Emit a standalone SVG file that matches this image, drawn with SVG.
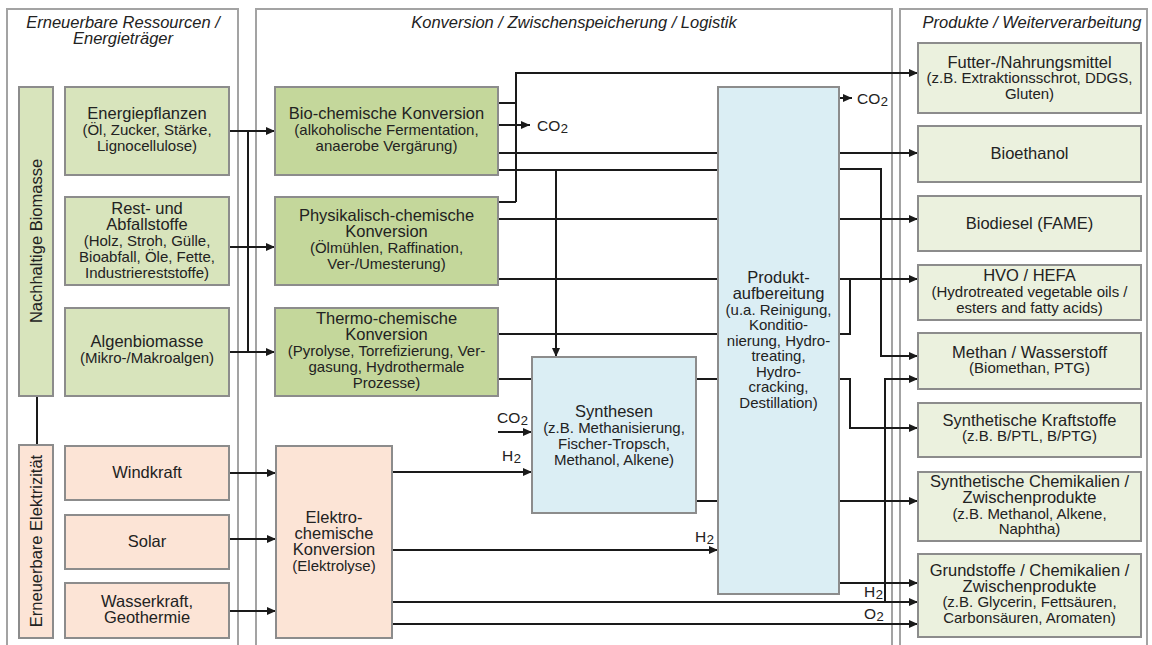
<svg xmlns="http://www.w3.org/2000/svg" width="1152" height="645" viewBox="0 0 1152 645">
<style>
.panel{fill:none;stroke:#a3a3a3;stroke-width:2}
.bx{stroke:#8c8c8c;stroke-width:2}
.src{fill:#d8e4bc}
.conv{fill:#c4d79b}
.prod{fill:#ebf1de}
.el{fill:#fce4d6}
.blue{fill:#dbeef4}
text{font-family:'Liberation Sans',Arial,sans-serif;fill:#222222}
.t{font-size:16.5px;text-anchor:middle}
.s{font-size:15px}
.ti{font-size:16.5px;font-style:italic;text-anchor:middle}
.lb{font-size:15.5px}
.sub{font-size:21px}
.c{fill:none;stroke:#1a1a1a;stroke-width:2}
.a{marker-end:url(#arr)}
</style>
<defs>
<marker id="arr" markerWidth="10" markerHeight="10" refX="9" refY="5" orient="auto" markerUnits="userSpaceOnUse">
<path d="M0,1 L9,5 L0,9 z" fill="#1a1a1a"/>
</marker>
</defs>
<rect width="1152" height="645" fill="#ffffff"/>
<g id="panels">
<rect class="panel" x="7" y="9" width="231" height="660"/>
<rect class="panel" x="256" y="9" width="636" height="660"/>
<rect class="panel" x="900" y="9" width="247" height="660"/>
<text class="ti" x="123" y="28">Erneuerbare Ressourcen /</text>
<text class="ti" x="123" y="44">Energieträger</text>
<text class="ti" x="574" y="28">Konversion / Zwischenspeicherung / Logistik</text>
<text class="ti" x="1032" y="28">Produkte / Weiterverarbeitung</text>
</g>
<g id="connectors">
<path class="c" d="M37,396 V445"/>
<path class="c a" d="M229,131 H275"/>
<path class="c a" d="M229,247 H275"/>
<path class="c a" d="M229,352 H275"/>
<path class="c" d="M248,131 V352"/>
<path class="c a" d="M229,473 H276"/>
<path class="c a" d="M229,539 H276"/>
<path class="c a" d="M229,611 H276"/>
<path class="c" d="M498,103 H516 M498,202 H516"/>
<path class="c a" d="M516,202 V73 H918"/>
<path class="c a" d="M498,125 H530"/>
<path class="c" d="M498,153 H718"/>
<path class="c" d="M498,170 H718"/>
<path class="c a" d="M556,170 V357"/>
<path class="c" d="M498,219 H718"/>
<path class="c" d="M498,279 H718"/>
<path class="c" d="M498,334 H718"/>
<path class="c" d="M498,379 H532"/>
<path class="c" d="M696,379 H718"/>
<path class="c" d="M696,501 H718"/>
<path class="c a" d="M498,432 H532"/>
<path class="c a" d="M392,472 H532"/>
<path class="c a" d="M392,550 H718"/>
<path class="c a" d="M392,602 H918"/>
<path class="c a" d="M392,624 H918"/>
<path class="c a" d="M839,98 H852"/>
<path class="c a" d="M839,153 H918"/>
<path class="c a" d="M839,169 H881 V356 H918"/>
<path class="c a" d="M839,219 H918"/>
<path class="c a" d="M839,279 H918"/>
<path class="c" d="M839,334 H850 V279"/>
<path class="c a" d="M839,379 H850 V428 H918"/>
<path class="c a" d="M839,501 H918"/>
<path class="c a" d="M839,583 H918"/>
<path class="c a" d="M885,602 V379 H918"/>
<text class="lb" x="537" y="131">CO<tspan class="sub">₂</tspan></text>
<text class="lb" x="497" y="423">CO<tspan class="sub">₂</tspan></text>
<text class="lb" x="502" y="461">H<tspan class="sub">₂</tspan></text>
<text class="lb" x="695" y="542">H<tspan class="sub">₂</tspan></text>
<text class="lb" x="857" y="104">CO<tspan class="sub">₂</tspan></text>
<text class="lb" x="864" y="597">H<tspan class="sub">₂</tspan></text>
<text class="lb" x="864" y="619">O<tspan class="sub">₂</tspan></text>
</g>
<g id="biomasse">
<rect class="bx src" x="19" y="87" width="34" height="309"/>
<text class="t" transform="translate(42,241) rotate(-90)">Nachhaltige Biomasse</text>
</g>
<g id="elektrizitaet">
<rect class="bx el" x="19" y="445" width="34" height="193"/>
<text class="t" transform="translate(42,541) rotate(-90)">Erneuerbare Elektrizität</text>
</g>
<g id="energiepflanzen">
<rect class="bx src" x="65" y="87" width="164" height="88"/>
<text class="t"><tspan x="147" y="119">Energiepflanzen</tspan><tspan class="s" x="147" y="135">(Öl, Zucker, Stärke,</tspan><tspan class="s" x="147" y="151">Lignocellulose)</tspan></text>
</g>
<g id="reststoffe">
<rect class="bx src" x="65" y="197" width="164" height="88"/>
<text class="t"><tspan x="147" y="214">Rest- und</tspan><tspan x="147" y="230">Abfallstoffe</tspan><tspan class="s" x="147" y="246">(Holz, Stroh, Gülle,</tspan><tspan class="s" x="147" y="262">Bioabfall, Öle, Fette,</tspan><tspan class="s" x="147" y="278">Industriereststoffe)</tspan></text>
</g>
<g id="algen">
<rect class="bx src" x="65" y="308" width="164" height="88"/>
<text class="t"><tspan x="147" y="347">Algenbiomasse</tspan><tspan class="s" x="147" y="363">(Mikro-/Makroalgen)</tspan></text>
</g>
<g id="windkraft">
<rect class="bx el" x="65" y="446" width="164" height="54"/>
<text class="t" x="147" y="478">Windkraft</text>
</g>
<g id="solar">
<rect class="bx el" x="65" y="515" width="164" height="54"/>
<text class="t" x="147" y="547">Solar</text>
</g>
<g id="wasserkraft">
<rect class="bx el" x="65" y="583" width="164" height="55"/>
<text class="t"><tspan x="147" y="607">Wasserkraft,</tspan><tspan x="147" y="623">Geothermie</tspan></text>
</g>
<g id="biochem">
<rect class="bx conv" x="275" y="87" width="223" height="88"/>
<text class="t"><tspan x="386.5" y="119">Bio-chemische Konversion</tspan><tspan class="s" x="386.5" y="135">(alkoholische Fermentation,</tspan><tspan class="s" x="386.5" y="151">anaerobe Vergärung)</tspan></text>
</g>
<g id="physchem">
<rect class="bx conv" x="275" y="197" width="223" height="88"/>
<text class="t"><tspan x="386.5" y="221">Physikalisch-chemische</tspan><tspan x="386.5" y="237">Konversion</tspan><tspan class="s" x="386.5" y="253">(Ölmühlen, Raffination,</tspan><tspan class="s" x="386.5" y="269">Ver-/Umesterung)</tspan></text>
</g>
<g id="thermochem">
<rect class="bx conv" x="275" y="308" width="223" height="88"/>
<text class="t"><tspan x="386.5" y="324">Thermo-chemische</tspan><tspan x="386.5" y="340">Konversion</tspan><tspan class="s" x="386.5" y="356">(Pyrolyse, Torrefizierung, Ver-</tspan><tspan class="s" x="386.5" y="372">gasung, Hydrothermale</tspan><tspan class="s" x="386.5" y="388">Prozesse)</tspan></text>
</g>
<g id="elektrochem">
<rect class="bx el" x="276" y="446" width="116" height="192"/>
<text class="t"><tspan x="334" y="523">Elektro-</tspan><tspan x="334" y="539">chemische</tspan><tspan x="334" y="555">Konversion</tspan><tspan class="s" x="334" y="571">(Elektrolyse)</tspan></text>
</g>
<g id="synthesen">
<rect class="bx blue" x="532" y="357" width="164" height="156"/>
<text class="t"><tspan x="614" y="417">Synthesen</tspan><tspan class="s" x="614" y="433">(z.B. Methanisierung,</tspan><tspan class="s" x="614" y="449">Fischer-Tropsch,</tspan><tspan class="s" x="614" y="465">Methanol, Alkene)</tspan></text>
</g>
<g id="produktaufbereitung">
<rect class="bx blue" x="718" y="87" width="121" height="507"/>
<text class="t"><tspan x="778.5" y="283">Produkt-</tspan><tspan x="778.5" y="299">aufbereitung</tspan><tspan class="s" x="778.5" y="314.5">(u.a. Reinigung,</tspan><tspan class="s" x="778.5" y="330">Konditio-</tspan><tspan class="s" x="778.5" y="345.5">nierung, Hydro-</tspan><tspan class="s" x="778.5" y="361">treating,</tspan><tspan class="s" x="778.5" y="376.5">Hydro-</tspan><tspan class="s" x="778.5" y="392">cracking,</tspan><tspan class="s" x="778.5" y="407.5">Destillation)</tspan></text>
</g>
<g id="futter">
<rect class="bx prod" x="918" y="43" width="223" height="70"/>
<text class="t"><tspan x="1029.5" y="68">Futter-/Nahrungsmittel</tspan><tspan class="s" x="1029.5" y="83">(z.B. Extraktionsschrot, DDGS,</tspan><tspan class="s" x="1029.5" y="99">Gluten)</tspan></text>
</g>
<g id="bioethanol">
<rect class="bx prod" x="918" y="126" width="223" height="56"/>
<text class="t" x="1029.5" y="159">Bioethanol</text>
</g>
<g id="biodiesel">
<rect class="bx prod" x="918" y="196" width="223" height="55"/>
<text class="t" x="1029.5" y="229">Biodiesel (FAME)</text>
</g>
<g id="hvo">
<rect class="bx prod" x="918" y="265" width="223" height="55"/>
<text class="t"><tspan x="1029.5" y="281">HVO / HEFA</tspan><tspan class="s" x="1029.5" y="297">(Hydrotreated vegetable oils /</tspan><tspan class="s" x="1029.5" y="313">esters and fatty acids)</tspan></text>
</g>
<g id="methan">
<rect class="bx prod" x="918" y="333" width="223" height="56"/>
<text class="t"><tspan x="1029.5" y="358">Methan / Wasserstoff</tspan><tspan class="s" x="1029.5" y="373">(Biomethan, PTG)</tspan></text>
</g>
<g id="synthkraftstoffe">
<rect class="bx prod" x="918" y="403" width="223" height="54"/>
<text class="t"><tspan x="1029.5" y="426">Synthetische Kraftstoffe</tspan><tspan class="s" x="1029.5" y="441">(z.B. B/PTL, B/PTG)</tspan></text>
</g>
<g id="synthchemikalien">
<rect class="bx prod" x="918" y="472" width="223" height="69"/>
<text class="t"><tspan x="1029.5" y="487">Synthetische Chemikalien /</tspan><tspan x="1029.5" y="503">Zwischenprodukte</tspan><tspan class="s" x="1029.5" y="519">(z.B. Methanol, Alkene,</tspan><tspan class="s" x="1029.5" y="534">Naphtha)</tspan></text>
</g>
<g id="grundstoffe">
<rect class="bx prod" x="918" y="554" width="223" height="83"/>
<text class="t"><tspan x="1029.5" y="576">Grundstoffe / Chemikalien /</tspan><tspan x="1029.5" y="592">Zwischenprodukte</tspan><tspan class="s" x="1029.5" y="607">(z.B. Glycerin, Fettsäuren,</tspan><tspan class="s" x="1029.5" y="623">Carbonsäuren, Aromaten)</tspan></text>
</g>
</svg>
